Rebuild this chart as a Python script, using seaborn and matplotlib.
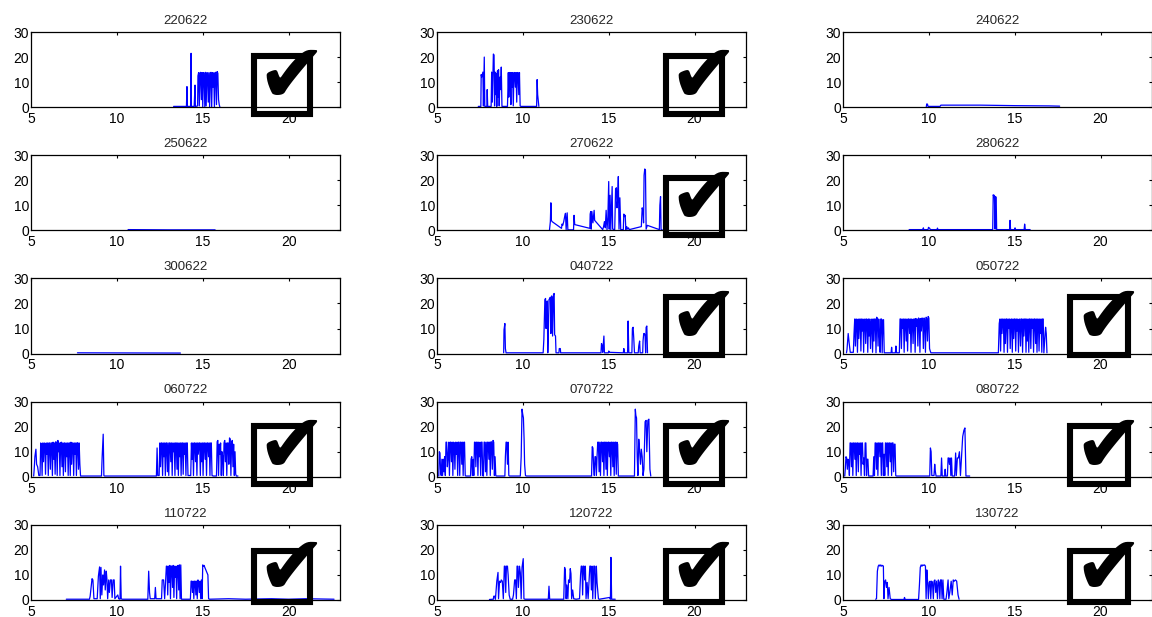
import matplotlib
matplotlib.use("Agg")
import matplotlib.pyplot as plt
import seaborn as sns
import pandas as pd
from matplotlib.patches import Rectangle

# ---------------- data (time of day [h], value) ----------------
titles = ["220622", "230622", "240622",
          "250622", "270622", "280622",
          "300622", "040722", "050722",
          "060722", "070722", "080722",
          "110722", "120722", "130722"]
checked = [True, True, False,
           False, True, False,
           False, True, True,
           True, True, True,
           True, True, True]

d220622 = [(13.30,0.3),(14.05,0.3),(14.08,8.2),(14.10,0.3),(14.13,0.3),(14.30,0.3),(14.32,21.5),(14.34,0.3),(14.50,0.3),(14.55,8.8),(14.57,0.3),(14.60,0.3),(14.70,0.5),(14.72,12.5),(14.76,13.8),(14.80,0.5),(14.84,13.7),(14.88,13.9),(14.92,3.0),(14.96,13.8),(15.00,0.0),(15.04,13.8),(15.08,13.7),(15.12,0.0),(15.16,13.9),(15.20,0.5),(15.24,13.8),(15.28,13.6),(15.32,2.0),(15.36,13.8),(15.40,0.0),(15.44,13.7),(15.48,13.9),(15.52,0.0),(15.56,13.8),(15.60,8.0),(15.64,13.7),(15.68,0.0),(15.72,13.8),(15.76,13.9),(15.80,1.0),(15.84,14.2),(15.88,13.5),(15.92,3.0),(15.96,1.0),(16.00,0.0)]

d230622 = [(7.40,0.3),(7.55,0.3),(7.57,13.0),(7.60,12.0),(7.67,14.0),(7.70,0.5),(7.75,20.0),(7.78,0.3),(7.90,0.3),(7.92,7.0),(7.95,0.3),(8.15,0.3),(8.18,14.0),(8.22,2.0),(8.28,21.2),(8.32,20.8),(8.35,0.5),(8.38,14.0),(8.42,5.0),(8.45,13.5),(8.48,0.3),(8.52,14.5),(8.55,4.0),(8.58,15.0),(8.62,0.5),(8.66,12.0),(8.70,7.0),(8.74,16.0),(8.78,0.3),(9.10,0.3),(9.12,5.0),(9.15,13.8),(9.18,4.0),(9.22,13.8),(9.26,13.8),(9.30,1.0),(9.33,13.8),(9.37,8.0),(9.40,13.8),(9.44,0.5),(9.48,13.8),(9.52,13.8),(9.56,8.0),(9.60,13.8),(9.64,2.0),(9.68,13.8),(9.72,13.8),(9.76,5.0),(9.80,13.8),(9.84,0.5),(9.88,0.3),(10.80,0.3),(10.83,11.0),(10.86,5.0),(10.93,0.3)]

d240622 = [(9.85,0.2),(9.88,1.3),(9.92,1.2),(9.95,0.3),(10.65,0.3),(10.70,0.8),(13.00,0.8),(15.00,0.6),(17.00,0.5),(17.62,0.4)]

d250622 = [(10.65,0.3),(13.00,0.2),(15.72,0.2)]

d270622 = [(11.55,0.2),(11.60,3.5),(11.63,11.0),(11.66,4.0),(11.70,3.5),(12.25,0.8),(12.28,2.5),(12.32,2.0),(12.38,3.5),(12.42,5.0),(12.48,6.8),(12.52,0.3),(12.58,7.0),(12.62,0.2),(12.95,0.2),(12.98,6.0),(13.02,2.3),(13.90,0.8),(13.92,6.5),(13.95,7.5),(13.98,0.5),(14.02,7.5),(14.08,3.0),(14.15,8.0),(14.18,4.0),(14.65,0.3),(14.70,1.5),(14.75,3.5),(14.80,1.0),(14.85,8.0),(14.90,0.3),(14.95,5.0),(15.00,19.5),(15.03,0.5),(15.08,14.0),(15.12,0.3),(15.20,17.5),(15.23,0.5),(15.35,0.3),(15.40,16.5),(15.45,17.0),(15.48,9.0),(15.52,12.0),(15.56,21.5),(15.60,0.5),(15.65,13.0),(15.70,0.3),(15.85,0.3),(15.88,6.5),(15.92,5.5),(15.96,6.0),(16.00,0.3),(16.05,1.5),(16.10,0.5),(16.15,1.0),(16.20,0.3),(16.90,1.5),(16.95,9.0),(17.00,7.5),(17.03,3.0),(17.06,22.0),(17.10,24.5),(17.14,24.0),(17.18,0.5),(17.25,2.0),(17.95,0.3),(17.98,10.0),(18.02,13.5),(18.05,0.3),(18.12,0.2)]

d280622 = [(8.85,0.3),(9.65,0.3),(9.68,1.0),(9.70,0.3),(9.95,0.3),(9.98,1.2),(10.05,0.8),(10.08,0.3),(10.48,0.3),(10.50,0.9),(10.53,0.3),(13.72,0.3),(13.75,14.2),(13.78,13.5),(13.82,14.0),(13.86,0.5),(13.88,13.5),(13.92,13.2),(13.95,0.3),(14.70,0.3),(14.73,4.0),(14.76,0.3),(15.00,0.3),(15.02,1.0),(15.05,0.3),(15.55,0.3),(15.58,2.5),(15.62,0.3),(15.90,0.3)]

d300622 = [(7.70,0.3),(13.70,0.2)]

d040722 = [(8.88,0.3),(8.90,9.5),(8.95,12.0),(8.98,2.0),(9.02,0.3),(11.18,0.3),(11.22,5.5),(11.28,21.5),(11.32,22.0),(11.35,10.0),(11.38,20.5),(11.42,21.0),(11.45,0.3),(11.48,8.0),(11.52,21.5),(11.56,22.0),(11.60,22.5),(11.63,8.0),(11.67,23.0),(11.70,22.5),(11.73,7.0),(11.78,23.5),(11.82,24.0),(11.85,7.5),(11.90,7.0),(11.93,0.3),(12.10,0.3),(12.12,2.0),(12.18,2.0),(12.20,0.3),(14.55,0.3),(14.58,4.0),(14.62,3.0),(14.65,0.5),(14.72,7.0),(14.75,0.3),(14.98,0.3),(15.00,1.0),(15.05,0.5),(15.85,0.3),(15.88,2.0),(15.92,0.3),(16.10,0.3),(16.13,13.0),(16.17,0.3),(16.35,0.3),(16.38,10.0),(16.42,10.5),(16.46,6.0),(16.50,0.3),(16.72,0.3),(16.75,3.0),(16.80,5.0),(16.83,0.3),(16.98,0.3),(17.00,5.0),(17.04,8.0),(17.08,8.0),(17.12,7.0),(17.15,0.3),(17.18,10.5),(17.22,11.0),(17.26,0.3)]

d050722 = [(5.20,0.3),(5.23,1.5),(5.30,8.0),(5.36,4.0),(5.42,0.5),(5.60,0.5),(5.64,8.0),(5.68,13.8),(5.72,3.0),(5.76,13.8),(5.80,13.6),(5.84,0.5),(5.88,13.8),(5.92,6.0),(5.96,13.7),(6.00,13.8),(6.04,1.0),(6.08,13.8),(6.12,9.0),(6.16,13.8),(6.20,0.5),(6.24,13.6),(6.28,13.8),(6.32,4.0),(6.36,13.8),(6.40,13.7),(6.44,0.5),(6.48,13.8),(6.52,7.0),(6.56,13.8),(6.60,2.0),(6.64,12.0),(6.68,13.8),(6.72,0.5),(6.76,13.8),(6.80,5.0),(6.84,13.8),(6.88,13.8),(6.92,0.3),(6.96,14.5),(7.00,14.0),(7.04,3.0),(7.08,13.8),(7.12,8.0),(7.16,0.5),(7.20,13.8),(7.24,13.8),(7.28,0.3),(7.32,13.5),(7.36,13.5),(7.40,0.3),(7.80,0.3),(7.83,2.5),(7.86,0.3),(8.05,0.3),(8.08,3.0),(8.12,0.3),(8.28,0.3),(8.32,13.8),(8.36,13.8),(8.40,2.0),(8.44,13.8),(8.48,10.0),(8.52,13.8),(8.56,0.5),(8.60,13.8),(8.64,13.7),(8.68,5.0),(8.72,13.8),(8.76,1.0),(8.80,13.8),(8.84,13.8),(8.88,8.0),(8.92,13.8),(8.96,0.5),(9.00,13.8),(9.04,13.5),(9.08,4.0),(9.12,13.8),(9.16,13.8),(9.20,0.5),(9.24,14.0),(9.28,11.0),(9.32,13.8),(9.36,3.0),(9.40,14.2),(9.44,13.8),(9.48,0.5),(9.52,14.0),(9.56,9.0),(9.60,14.2),(9.64,14.0),(9.68,2.0),(9.72,14.2),(9.76,13.9),(9.80,0.5),(9.84,14.5),(9.88,14.0),(9.92,5.0),(9.96,14.8),(10.00,14.2),(10.04,2.0),(10.08,1.0),(10.12,0.3),(14.05,0.3),(14.10,12.0),(14.14,13.8),(14.18,1.0),(14.22,13.8),(14.26,8.0),(14.30,13.8),(14.34,13.7),(14.38,0.5),(14.42,13.8),(14.46,4.0),(14.50,13.8),(14.54,13.8),(14.58,0.5),(14.62,13.8),(14.66,10.0),(14.70,13.8),(14.74,2.0),(14.78,13.7),(14.82,13.8),(14.86,0.5),(14.90,13.8),(14.94,6.0),(14.98,13.8),(15.02,13.8),(15.06,1.0),(15.10,13.8),(15.14,9.0),(15.18,13.8),(15.22,0.5),(15.26,13.6),(15.30,13.8),(15.34,3.0),(15.38,13.8),(15.42,13.8),(15.46,0.5),(15.50,13.8),(15.54,7.0),(15.58,13.8),(15.62,13.8),(15.66,0.5),(15.70,13.8),(15.74,5.0),(15.78,13.8),(15.82,0.5),(15.86,13.8),(15.90,13.8),(15.94,2.0),(15.98,13.8),(16.02,10.0),(16.06,13.8),(16.10,0.5),(16.14,13.8),(16.18,13.8),(16.22,4.0),(16.26,13.8),(16.30,0.5),(16.34,13.8),(16.38,13.7),(16.42,1.0),(16.46,13.8),(16.50,8.0),(16.54,13.8),(16.58,0.5),(16.62,13.8),(16.66,13.8),(16.70,0.3),(16.80,10.5),(16.84,8.0),(16.88,0.3)]

d060722 = [(5.15,0.3),(5.18,3.0),(5.22,8.0),(5.28,11.0),(5.32,5.0),(5.38,4.0),(5.45,0.5),(5.52,0.5),(5.56,13.5),(5.60,13.0),(5.64,0.5),(5.68,13.5),(5.72,6.0),(5.76,13.5),(5.80,13.3),(5.84,1.0),(5.88,13.5),(5.92,9.0),(5.96,13.5),(6.00,0.5),(6.04,13.5),(6.08,13.5),(6.12,3.0),(6.16,13.5),(6.20,13.5),(6.24,0.5),(6.28,13.8),(6.32,7.0),(6.36,13.5),(6.40,1.0),(6.44,14.0),(6.48,13.5),(6.52,0.5),(6.56,14.5),(6.60,10.0),(6.64,13.5),(6.68,0.5),(6.72,13.5),(6.76,13.8),(6.80,4.0),(6.84,13.5),(6.88,0.5),(6.92,13.5),(6.96,13.5),(7.00,2.0),(7.04,13.5),(7.08,8.0),(7.12,13.5),(7.16,0.5),(7.20,13.5),(7.24,13.5),(7.28,0.5),(7.32,13.8),(7.36,5.0),(7.40,13.5),(7.44,13.5),(7.48,0.5),(7.52,13.5),(7.56,9.0),(7.60,13.5),(7.64,0.5),(7.68,13.6),(7.72,13.5),(7.76,3.0),(7.80,13.5),(7.84,5.0),(7.88,0.3),(9.10,0.3),(9.14,8.0),(9.20,17.0),(9.24,0.5),(9.28,0.3),(12.30,0.3),(12.34,11.5),(12.38,0.5),(12.46,0.5),(12.50,13.5),(12.54,4.0),(12.58,13.5),(12.62,13.5),(12.66,0.5),(12.70,13.5),(12.74,8.0),(12.78,13.5),(12.82,0.5),(12.86,13.5),(12.90,13.5),(12.94,2.0),(12.98,13.5),(13.02,0.5),(13.06,13.5),(13.10,13.5),(13.14,6.0),(13.18,13.5),(13.22,0.5),(13.26,13.5),(13.30,10.0),(13.34,13.5),(13.38,0.5),(13.42,13.5),(13.46,13.5),(13.50,3.0),(13.54,13.5),(13.58,0.5),(13.62,13.5),(13.66,8.0),(13.70,13.5),(13.74,0.5),(13.78,13.5),(13.82,13.5),(13.86,1.0),(13.90,13.5),(13.94,9.0),(13.98,13.5),(14.02,0.5),(14.06,13.5),(14.10,13.5),(14.14,0.5),(14.30,0.5),(14.34,13.5),(14.38,7.0),(14.42,13.5),(14.46,0.5),(14.50,13.5),(14.54,13.5),(14.58,6.0),(14.62,13.5),(14.66,0.5),(14.70,13.5),(14.74,9.0),(14.78,13.5),(14.82,13.5),(14.86,0.5),(14.90,13.5),(14.94,6.0),(14.98,13.5),(15.02,0.5),(15.06,13.5),(15.10,13.5),(15.14,7.0),(15.18,13.5),(15.22,0.5),(15.26,13.5),(15.30,13.5),(15.34,8.0),(15.38,13.5),(15.42,0.5),(15.46,13.5),(15.50,13.5),(15.54,0.5),(15.62,0.3),(15.80,0.3),(15.84,14.0),(15.88,14.5),(15.92,0.5),(15.96,13.0),(16.00,9.0),(16.04,13.5),(16.08,0.5),(16.12,10.0),(16.16,8.0),(16.20,0.5),(16.24,13.5),(16.28,14.5),(16.32,6.0),(16.36,13.5),(16.40,0.5),(16.44,13.5),(16.48,13.5),(16.52,5.0),(16.56,15.5),(16.60,15.0),(16.64,0.5),(16.68,13.5),(16.72,14.5),(16.76,4.0),(16.80,13.0),(16.84,0.5),(16.88,10.0),(16.92,1.0),(16.96,0.3),(17.05,0.3)]

d070722 = [(5.10,0.3),(5.13,10.0),(5.17,9.5),(5.20,3.0),(5.24,0.5),(5.28,7.0),(5.32,0.5),(5.36,7.0),(5.40,2.0),(5.44,8.0),(5.48,0.5),(5.52,13.8),(5.56,13.8),(5.60,4.0),(5.64,8.0),(5.68,13.8),(5.72,0.5),(5.76,13.8),(5.80,13.8),(5.84,6.0),(5.88,13.8),(5.92,0.5),(5.96,13.8),(6.00,13.6),(6.04,3.0),(6.08,13.8),(6.12,9.0),(6.16,13.8),(6.20,0.5),(6.24,13.8),(6.28,13.8),(6.32,0.5),(6.36,13.8),(6.40,13.8),(6.44,5.0),(6.48,13.8),(6.52,0.5),(6.56,13.8),(6.60,13.8),(6.64,0.5),(6.68,0.3),(6.95,0.3),(6.98,7.0),(7.02,8.0),(7.06,0.5),(7.10,7.0),(7.14,0.5),(7.18,13.8),(7.22,13.8),(7.26,4.0),(7.30,13.8),(7.34,13.8),(7.38,0.5),(7.42,13.8),(7.46,8.0),(7.50,13.8),(7.54,0.5),(7.58,13.8),(7.62,13.8),(7.66,0.5),(7.70,0.3),(7.74,13.8),(7.78,13.8),(7.82,2.0),(7.86,13.8),(7.90,0.5),(7.94,13.8),(7.98,13.8),(8.02,7.0),(8.06,13.8),(8.10,0.5),(8.14,14.0),(8.18,13.8),(8.22,3.0),(8.26,14.5),(8.30,13.8),(8.34,0.5),(8.38,8.0),(8.42,0.5),(8.46,0.3),(8.95,0.3),(8.98,8.0),(9.02,13.8),(9.06,13.8),(9.10,5.0),(9.14,13.8),(9.18,0.5),(9.22,0.3),(9.85,0.3),(9.90,8.0),(9.95,27.0),(9.99,25.0),(10.03,23.5),(10.07,15.0),(10.10,5.0),(10.15,0.5),(10.20,0.3),(14.00,0.3),(14.04,12.0),(14.08,11.5),(14.12,4.0),(14.16,0.5),(14.20,8.0),(14.24,8.0),(14.28,0.5),(14.32,8.0),(14.36,13.8),(14.40,13.8),(14.44,2.0),(14.48,13.8),(14.52,0.5),(14.56,13.8),(14.60,13.8),(14.64,6.0),(14.68,13.8),(14.72,0.5),(14.76,13.8),(14.80,13.8),(14.84,3.0),(14.88,13.8),(14.92,0.5),(14.96,13.8),(15.00,13.8),(15.04,8.0),(15.08,13.8),(15.12,0.5),(15.16,13.8),(15.20,13.8),(15.24,4.0),(15.28,13.8),(15.32,0.5),(15.36,13.8),(15.40,13.8),(15.44,1.0),(15.48,13.8),(15.52,13.0),(15.56,0.3),(16.50,0.3),(16.55,27.0),(16.58,24.5),(16.62,23.5),(16.66,8.0),(16.70,0.5),(16.75,15.0),(16.80,10.5),(16.85,5.0),(16.90,11.0),(16.95,8.0),(17.00,0.5),(17.05,3.0),(17.12,22.0),(17.18,22.5),(17.22,10.0),(17.28,22.5),(17.34,23.0),(17.40,3.0),(17.45,0.3)]

d080722 = [(5.10,0.3),(5.13,3.0),(5.17,8.0),(5.21,7.5),(5.25,3.0),(5.29,7.0),(5.33,6.0),(5.37,0.5),(5.41,13.5),(5.45,13.5),(5.49,4.0),(5.53,13.5),(5.57,0.5),(5.61,13.5),(5.65,13.5),(5.69,7.0),(5.73,13.5),(5.77,0.5),(5.81,13.5),(5.85,13.5),(5.89,2.0),(5.93,13.5),(5.97,9.0),(6.01,13.5),(6.05,0.5),(6.09,13.5),(6.13,13.5),(6.17,5.0),(6.21,7.5),(6.25,0.5),(6.29,13.5),(6.33,13.5),(6.37,0.5),(6.41,7.0),(6.45,7.0),(6.49,0.3),(6.75,0.3),(6.79,8.0),(6.83,0.5),(6.87,13.5),(6.91,13.5),(6.95,3.0),(6.99,13.5),(7.03,0.5),(7.07,13.5),(7.11,13.5),(7.15,8.0),(7.19,13.5),(7.23,0.5),(7.27,13.5),(7.31,13.5),(7.35,0.5),(7.39,9.0),(7.43,0.5),(7.47,13.5),(7.51,13.5),(7.55,4.0),(7.59,13.5),(7.63,0.5),(7.67,13.5),(7.71,13.5),(7.75,6.0),(7.79,13.5),(7.83,0.5),(7.87,13.5),(7.91,13.5),(7.95,2.0),(7.99,13.0),(8.03,13.0),(8.07,0.5),(8.10,0.3),(10.05,0.3),(10.09,11.5),(10.13,10.0),(10.17,0.5),(10.30,0.5),(10.34,5.0),(10.38,2.0),(10.42,0.3),(10.70,0.3),(10.74,7.5),(10.78,0.3),(10.92,0.3),(10.95,3.0),(10.98,0.3),(11.08,0.3),(11.12,7.5),(11.16,7.5),(11.20,5.0),(11.24,7.5),(11.28,0.5),(11.32,7.5),(11.36,0.3),(11.50,0.3),(11.56,9.5),(11.60,0.5),(11.66,7.5),(11.72,7.5),(11.78,10.0),(11.84,0.5),(11.92,10.0),(11.97,16.0),(12.04,18.5),(12.10,19.5),(12.16,0.3),(12.38,0.3)]

d110722 = [(7.05,0.3),(8.40,0.3),(8.44,1.5),(8.55,8.5),(8.60,8.0),(8.66,0.5),(8.85,0.5),(8.92,9.5),(8.99,13.2),(9.03,0.5),(9.07,13.0),(9.12,2.0),(9.18,10.0),(9.22,6.0),(9.28,12.0),(9.32,4.0),(9.38,11.5),(9.42,8.0),(9.46,0.5),(9.52,8.0),(9.56,3.0),(9.62,8.0),(9.68,8.0),(9.72,1.0),(9.78,8.0),(9.84,8.0),(9.88,0.5),(10.05,2.0),(10.10,0.5),(10.18,0.3),(10.21,13.5),(10.25,0.5),(10.30,0.3),(11.80,0.3),(11.85,11.5),(11.90,3.0),(11.94,0.5),(12.20,0.5),(12.24,5.0),(12.28,0.5),(12.60,0.5),(12.64,8.0),(12.72,8.0),(12.78,0.5),(12.84,8.0),(12.88,13.5),(12.92,13.5),(12.96,2.0),(13.00,13.5),(13.04,7.0),(13.08,13.8),(13.12,0.5),(13.16,13.5),(13.20,13.5),(13.24,5.0),(13.28,13.8),(13.32,1.0),(13.36,13.5),(13.40,9.0),(13.44,13.5),(13.48,0.5),(13.52,13.5),(13.56,13.8),(13.60,4.0),(13.64,14.0),(13.68,0.5),(13.72,14.0),(13.76,0.3),(14.28,0.3),(14.32,7.5),(14.36,7.5),(14.40,3.0),(14.44,7.5),(14.48,0.5),(14.52,7.5),(14.56,7.5),(14.60,2.0),(14.64,7.5),(14.68,0.5),(14.72,8.0),(14.76,7.5),(14.80,3.0),(14.84,7.5),(14.88,0.5),(14.92,8.0),(14.96,0.5),(15.00,14.0),(15.04,13.5),(15.08,13.8),(15.12,13.0),(15.18,12.0),(15.24,11.0),(15.30,10.0),(15.34,0.5),(15.40,0.3),(16.50,0.5),(17.50,0.3),(19.00,0.5),(20.00,0.3),(21.00,0.5),(22.65,0.3)]

d120722 = [(8.05,0.2),(8.28,0.3),(8.30,1.5),(8.36,1.5),(8.40,0.3),(8.48,7.5),(8.55,11.0),(8.58,0.5),(8.64,7.5),(8.70,7.0),(8.74,8.0),(8.80,7.5),(8.86,0.5),(8.92,13.5),(8.96,13.5),(9.00,3.0),(9.04,13.5),(9.10,13.5),(9.14,10.0),(9.20,2.0),(9.26,0.3),(9.40,0.3),(9.45,2.0),(9.52,8.0),(9.57,8.0),(9.62,0.5),(9.66,13.5),(9.70,13.5),(9.74,5.0),(9.80,13.5),(9.85,11.0),(9.90,0.5),(9.95,13.0),(10.02,16.5),(10.06,0.5),(10.12,0.3),(11.48,0.3),(11.52,5.5),(11.56,0.3),(12.38,0.3),(12.43,13.0),(12.47,12.0),(12.52,0.5),(12.56,6.0),(12.62,0.5),(12.66,8.0),(12.72,7.0),(12.76,12.5),(12.80,10.5),(12.84,0.5),(12.90,4.0),(12.96,0.5),(13.10,0.3),(13.30,0.5),(13.36,10.0),(13.40,13.5),(13.44,13.5),(13.48,2.0),(13.52,13.5),(13.56,13.5),(13.60,8.0),(13.64,13.5),(13.68,0.5),(13.74,7.0),(13.80,0.5),(13.90,13.5),(13.95,13.5),(13.99,4.0),(14.03,13.5),(14.07,0.5),(14.13,13.5),(14.18,13.5),(14.22,0.5),(14.28,13.5),(14.32,7.0),(14.40,0.5),(14.45,0.3),(15.05,1.0),(15.10,0.3),(15.13,17.0),(15.17,0.3),(15.38,0.3)]

d130722 = [(6.90,0.3),(6.95,0.5),(7.00,11.5),(7.05,13.5),(7.10,14.0),(7.15,13.5),(7.20,14.0),(7.25,13.5),(7.30,13.8),(7.35,13.5),(7.38,0.5),(7.43,7.5),(7.48,8.0),(7.53,5.0),(7.58,7.0),(7.62,0.5),(7.68,5.0),(7.75,0.5),(7.82,0.2),(8.55,0.2),(8.58,1.0),(8.62,0.2),(9.40,0.2),(9.45,6.0),(9.50,13.0),(9.55,14.0),(9.60,13.5),(9.65,14.0),(9.70,13.8),(9.75,14.0),(9.80,13.5),(9.84,0.5),(9.88,12.0),(9.93,7.0),(9.97,0.5),(10.02,7.0),(10.07,7.5),(10.11,0.5),(10.16,7.5),(10.21,7.0),(10.26,0.5),(10.30,7.5),(10.35,8.0),(10.40,3.0),(10.45,7.5),(10.50,0.5),(10.55,8.0),(10.60,7.0),(10.64,0.5),(10.68,8.0),(10.73,8.0),(10.77,0.5),(10.82,8.0),(10.87,0.3),(11.00,0.3),(11.05,3.0),(11.12,8.0),(11.16,0.5),(11.22,3.0),(11.30,7.5),(11.36,2.0),(11.42,8.0),(11.48,7.5),(11.55,8.0),(11.62,7.5),(11.70,2.0),(11.76,0.3)]

series = [d220622, d230622, d240622,
          d250622, d270622, d280622,
          d300622, d040722, d050722,
          d060722, d070722, d080722,
          d110722, d120722, d130722]

x_ticks = [5, 10, 15, 20]
y_ticks = [0, 10, 20, 30]

# ---------------- style ----------------
sns.set_style("white")
plt.rcParams['font.family'] = ['Liberation Sans', 'DejaVu Sans']
plt.rcParams['axes.linewidth'] = 0.8

fig, axes = plt.subplots(5, 3, figsize=(11.52, 6.17), dpi=100)
fig.subplots_adjust(left=0.027, right=1.0, bottom=0.0276, top=0.9481,
                    hspace=0.64, wspace=0.314)

# check-box geometry in axes fractions (per column / per row)
box_x = [(0.722, 0.903), (0.740, 0.923), (0.736, 0.922)]
box_y = [(-0.093, 0.68), (-0.067, 0.693), (-0.013, 0.747), (-0.093, 0.68), (-0.027, 0.653)]

for i, ax in enumerate(axes.flat):
    r, c = divmod(i, 3)
    df = pd.DataFrame(series[i], columns=["t", "v"])
    sns.lineplot(data=df, x="t", y="v", ax=ax, color="#0000ff", lw=0.9,
                 estimator=None, sort=False)
    ax.set_xlim(5, 23)
    ax.set_ylim(0, 30)
    ax.set_xticks(x_ticks)
    ax.set_yticks(y_ticks)
    ax.set_xlabel("")
    ax.set_ylabel("")
    ax.set_title(titles[i], fontsize=9.5, pad=6)
    ax.tick_params(direction="in", length=2.5, width=0.8, top=True, right=True,
                   labelsize=10, colors="black")
    ax.tick_params(axis="x", pad=3.5)
    ax.tick_params(axis="y", pad=1.5)
    for s in ax.spines.values():
        s.set_color("black")
        s.set_linewidth(0.9)
    if checked[i]:
        x0, x1 = box_x[c]
        y0, y1 = box_y[r]
        ax.add_patch(Rectangle((x0, y0), x1 - x0, y1 - y0, transform=ax.transAxes,
                               fill=False, edgecolor="black", lw=4.4,
                               clip_on=False, zorder=5))
        ax.text(x0 + 0.66 * (x1 - x0), y0 + 0.61 * (y1 - y0), "\u2714",
                transform=ax.transAxes, ha="center", va="center",
                fontsize=60, family="DejaVu Sans", color="black",
                clip_on=False, zorder=6)

fig.savefig("out.png", dpi=100)
